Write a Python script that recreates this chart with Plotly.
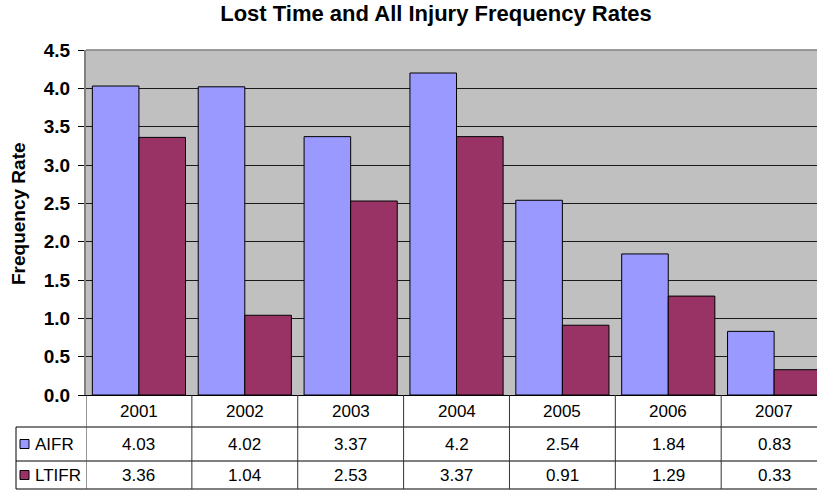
import plotly.graph_objects as go

# ---- data ----
years = ["2001", "2002", "2003", "2004", "2005", "2006", "2007"]
aifr = [4.03, 4.02, 3.37, 4.2, 2.54, 1.84, 0.83]
ltifr = [3.36, 1.04, 2.53, 3.37, 0.91, 1.29, 0.33]
series_names = ["AIFR", "LTIFR"]
y_ticks = [0, 0.5, 1, 1.5, 2, 2.5, 3, 3.5, 4, 4.5]

# ---- layout geometry (pixels) ----
W, H = 817, 491
L, R, T, B = 86, 0, 50, 96
FONT = "Liberation Sans, Arial, sans-serif"
BLUE = "#9999FF"
PURPLE = "#993366"


def px(x):
    return (x - L) / (W - L - R)


def py(y):
    return (H - B - y) / (H - T - B)


idx = list(range(len(years)))

fig = go.Figure()
fig.add_trace(go.Bar(x=idx, y=aifr, name=series_names[0],
                     marker=dict(color=BLUE, line=dict(color="#000000", width=1))))
fig.add_trace(go.Bar(x=idx, y=ltifr, name=series_names[1],
                     marker=dict(color=PURPLE, line=dict(color="#000000", width=1))))

shapes = []
annotations = []

# plot-area top border
shapes.append(dict(type="line", xref="paper", yref="paper", x0=0, x1=1, y0=1, y1=1,
                   line=dict(color="#808080", width=1.5)))

# table horizontal lines
for yy in [427, 461, 489]:
    shapes.append(dict(type="line", xref="paper", yref="paper", x0=px(16), x1=1,
                       y0=py(yy), y1=py(yy), line=dict(color="#000000", width=1)))
# table left border
shapes.append(dict(type="line", xref="paper", yref="paper", x0=px(16), x1=px(16),
                   y0=py(427), y1=py(489), line=dict(color="#000000", width=1)))
# table vertical lines at category boundaries
for i in range(len(years)):
    shapes.append(dict(type="line", xref="x", yref="paper", x0=i - 0.5, x1=i - 0.5,
                       y0=py(395), y1=py(489), line=dict(color="#333333", width=1)))

# year row
for i, yr in zip(idx, years):
    annotations.append(dict(x=i, y=py(411), xref="x", yref="paper", text=yr,
                            xanchor="center", yanchor="middle",
                            showarrow=False, font=dict(family=FONT, size=17, color="#000")))

# value rows
rows = [(aifr, BLUE, 444), (ltifr, PURPLE, 475)]
for (vals, col, yc), name in zip(rows, series_names):
    shapes.append(dict(type="rect", xref="paper", yref="paper",
                       x0=px(20), x1=px(29), y0=py(yc + 4.5), y1=py(yc - 4.5),
                       fillcolor=col, line=dict(color="#000000", width=1)))
    annotations.append(dict(x=px(33), y=py(yc), xref="paper", yref="paper", text=name,
                            xanchor="left", yanchor="middle", showarrow=False,
                            font=dict(family=FONT, size=17, color="#000")))
    for i, v in zip(idx, vals):
        annotations.append(dict(x=i, y=py(yc), xref="x", yref="paper", text=f"{v:g}",
                                xanchor="center", yanchor="middle",
                                showarrow=False, font=dict(family=FONT, size=17, color="#000")))

# y-axis title
annotations.append(dict(x=px(19), y=py(214), xref="paper", yref="paper",
                        xanchor="center", yanchor="middle",
                        text="<b>Frequency Rate</b>", textangle=-90, showarrow=False,
                        font=dict(family=FONT, size=19, color="#000")))

fig.update_layout(
    width=W, height=H,
    margin=dict(l=L, r=R, t=T, b=B),
    paper_bgcolor="#FFFFFF",
    plot_bgcolor="#C0C0C0",
    barmode="group", bargap=0.12, bargroupgap=0,
    showlegend=False,
    title=dict(text="<b>Lost Time and All Injury Frequency Rates</b>",
               x=436 / W, xanchor="center", y=1 - 13 / H, yanchor="middle",
               font=dict(family=FONT, size=22, color="#000")),
    xaxis=dict(range=[-0.5, 6.405], showticklabels=False, showgrid=False,
               zeroline=False, showline=True, linecolor="#000000", linewidth=1,
               ticks=""),
    yaxis=dict(range=[0, 4.5], tickvals=y_ticks, tickformat=".1f",
               showgrid=True, gridcolor="#1a1a1a", gridwidth=1,
               zeroline=False, showline=True, linecolor="#808080", linewidth=2,
               ticks="outside", ticklen=6, tickcolor="#000000", ticklabelstandoff=4,
               tickfont=dict(family=FONT, size=19, color="#000", weight="bold")),
    shapes=shapes,
    annotations=annotations,
)

fig.write_html("out.html", config={"displayModeBar": False},
               post_script="document.body.style.margin='0';")
